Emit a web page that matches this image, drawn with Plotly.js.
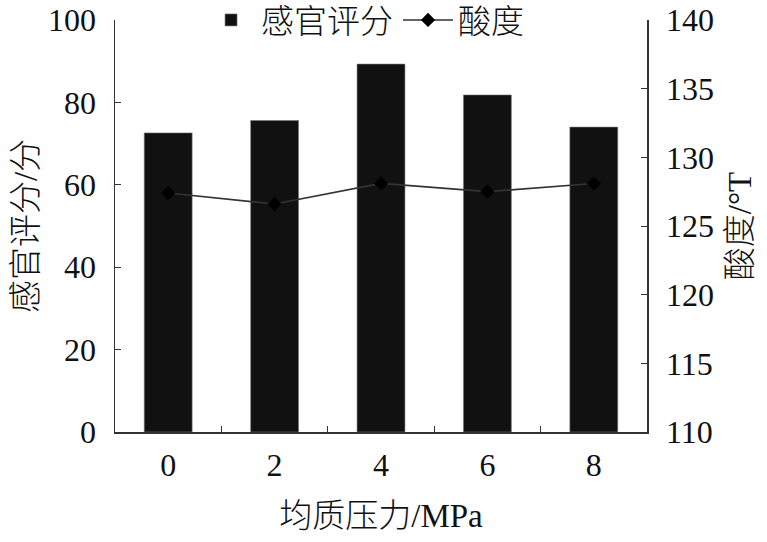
<!DOCTYPE html>
<html>
<head>
<meta charset="utf-8">
<script src="https://cdn.plot.ly/plotly-3.0.1.min.js"></script>
<style>html,body{margin:0;padding:0;background:#fff;}#chart{width:767px;height:542px;}</style>
</head>
<body>
<div id="chart"></div>
<script>
const categories = ["0", "2", "4", "6", "8"];
const sensoryScore = [72.6, 75.6, 89.3, 81.8, 74.0];
const acidity = [127.4, 126.6, 128.1, 127.5, 128.1];
const leftTicks = [0, 20, 40, 60, 80, 100];
const rightTicks = [110, 115, 120, 125, 130, 135, 140];

const FONT = "'Liberation Serif', 'Times New Roman', 'Noto Sans CJK SC', serif";

const traces = [
  {
    type: "bar",
    name: "感官评分",
    x: categories,
    y: sensoryScore,
    marker: { color: "#111111", line: { color: "#777777", width: 0.6 } },
    yaxis: "y"
  },
  {
    type: "scatter",
    mode: "lines+markers",
    name: "酸度",
    x: categories,
    y: acidity,
    yaxis: "y2",
    line: { color: "#333333", width: 1.6 },
    marker: { symbol: "diamond", size: 11, color: "#000000" }
  }
];

const layout = {
  width: 767,
  height: 542,
  paper_bgcolor: "#ffffff",
  plot_bgcolor: "#ffffff",
  font: { family: FONT, size: 32, color: "#111111" },
  margin: { l: 115, r: 120, t: 20, b: 110, autoexpand: false },
  bargap: 0.55,
  showlegend: true,
  legend: {
    orientation: "h",
    x: 0.47, xanchor: "center",
    y: 1.0, yanchor: "middle",
    bgcolor: "rgba(255,255,255,1)",
    font: { family: FONT, size: 33, weight: 300 },
    itemwidth: 50,
    traceorder: "normal"
  },
  xaxis: {
    type: "category",
    tickvals: categories,
    ticktext: categories,
    tickson: "boundaries",
    ticks: "inside",
    ticklen: 6,
    tickcolor: "#333",
    showline: true,
    linecolor: "#333",
    linewidth: 1.5,
    showgrid: false,
    zeroline: false,
    ticklabelstandoff: 4,
    tickfont: { family: FONT, size: 32 },
    title: { text: "均质压力/MPa", font: { family: FONT, size: 33, weight: 300 }, standoff: 22 }
  },
  yaxis: {
    range: [0, 100],
    tickvals: leftTicks,
    ticks: "inside",
    ticklen: 6,
    tickcolor: "#333",
    showline: true,
    linecolor: "#333",
    linewidth: 1.5,
    showgrid: false,
    zeroline: false,
    ticklabelstandoff: 11,
    tickfont: { family: FONT, size: 32 },
    title: { text: "感官评分/分", font: { family: FONT, size: 33, weight: 300 }, standoff: 0 }
  },
  yaxis2: {
    overlaying: "y",
    side: "right",
    range: [110, 140],
    tickvals: rightTicks,
    ticks: "inside",
    ticklen: 6,
    tickcolor: "#333",
    showline: true,
    linecolor: "#333",
    linewidth: 1.5,
    showgrid: false,
    zeroline: false,
    ticklabelstandoff: 11,
    tickfont: { family: FONT, size: 32 },
    title: { text: "酸度/°T", font: { family: FONT, size: 33, weight: 300 }, standoff: 15 }
  }
};

Plotly.newPlot("chart", traces, layout, { displayModeBar: false, staticPlot: true });
</script>
</body>
</html>
